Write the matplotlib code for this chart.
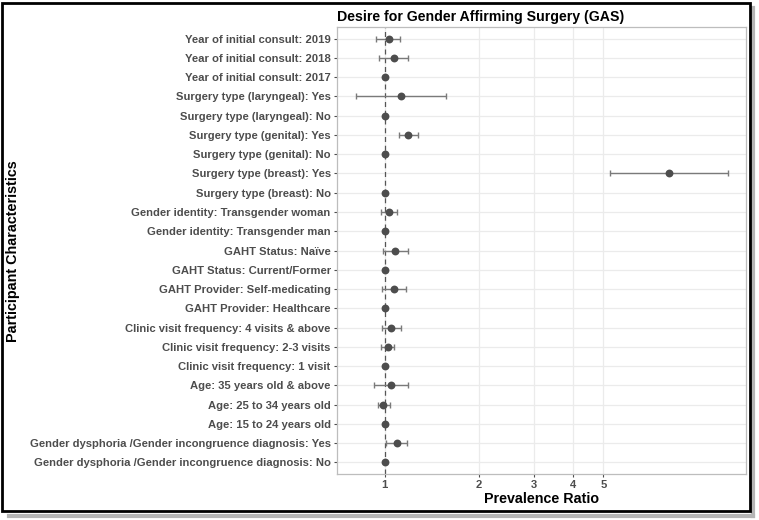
import numpy as np
import matplotlib
matplotlib.use('Agg')
import matplotlib.pyplot as plt
from matplotlib.patches import Rectangle
from matplotlib.lines import Line2D

plt.rcParams['font.family'] = ['Liberation Sans', 'DejaVu Sans']

# rows listed top to bottom
labels = [
    'Year of initial consult: 2019',
    'Year of initial consult: 2018',
    'Year of initial consult: 2017',
    'Surgery type (laryngeal): Yes',
    'Surgery type (laryngeal): No',
    'Surgery type (genital): Yes',
    'Surgery type (genital): No',
    'Surgery type (breast): Yes',
    'Surgery type (breast): No',
    'Gender identity: Transgender woman',
    'Gender identity: Transgender man',
    'GAHT Status: Naïve',
    'GAHT Status: Current/Former',
    'GAHT Provider: Self-medicating',
    'GAHT Provider: Healthcare',
    'Clinic visit frequency: 4 visits & above',
    'Clinic visit frequency: 2-3 visits',
    'Clinic visit frequency: 1 visit',
    'Age: 35 years old & above',
    'Age: 25 to 34 years old',
    'Age: 15 to 24 years old',
    'Gender dysphoria /Gender incongruence diagnosis: Yes',
    'Gender dysphoria /Gender incongruence diagnosis: No',
]
pr    = [1.03, 1.07, 1.00, 1.13, 1.00, 1.19, 1.00, 8.11, 1.00, 1.03, 1.00, 1.08,
         1.00, 1.07, 1.00, 1.05, 1.02, 1.00, 1.05, 0.99, 1.00, 1.09, 1.00]
lower = [0.94, 0.96, np.nan, 0.81, np.nan, 1.11, np.nan, 5.24, np.nan, 0.97, np.nan, 0.99,
         np.nan, 0.98, np.nan, 0.98, 0.97, np.nan, 0.92, 0.95, np.nan, 1.01, np.nan]
upper = [1.12, 1.19, np.nan, 1.57, np.nan, 1.28, np.nan, 12.5, np.nan, 1.09, np.nan, 1.19,
         np.nan, 1.17, np.nan, 1.13, 1.07, np.nan, 1.19, 1.04, np.nan, 1.18, np.nan]
xticks = [1, 2, 3, 4, 5]

n = len(labels)
ypos = np.arange(n)[::-1]

fig = plt.figure(figsize=(7.59, 5.2), dpi=100)
ax = fig.add_axes([0.444, 0.0885, 0.539, 0.8595])

pr_a = np.array(pr)
lo_a = np.array(lower)
hi_a = np.array(upper)
has_ci = ~np.isnan(lo_a)

ax.axvline(1, color='#555555', lw=0.9, ls=(0, (4, 3)), zorder=2)
ax.errorbar(pr_a[has_ci], ypos[has_ci],
            xerr=[pr_a[has_ci] - lo_a[has_ci], hi_a[has_ci] - pr_a[has_ci]],
            fmt='none', ecolor='#7a7a7a', elinewidth=1.0, capsize=2.2,
            capthick=1.0, zorder=3)
ax.scatter(pr_a, ypos, s=32, color='#4d4d4d', zorder=4, linewidths=0)

ax.set_xscale('log')
ax.set_xlim(0.703, 14.3)
ax.set_ylim(-0.6, n - 0.4)
ax.set_xticks(xticks)
ax.set_xticklabels([str(t) for t in xticks])
ax.xaxis.set_minor_locator(matplotlib.ticker.NullLocator())
ax.set_yticks(ypos)
ax.set_yticklabels(labels)

ax.grid(True, color='#ebebeb', lw=0.9, zorder=0)
ax.set_axisbelow(True)
for s in ax.spines.values():
    s.set_color('#bdbdbd')
    s.set_linewidth(0.9)
ax.tick_params(axis='both', length=2.5, width=0.8, color='#4d4d4d',
               labelcolor='#4d4d4d', labelsize=8.1, pad=2)
for lab in ax.get_xticklabels() + ax.get_yticklabels():
    lab.set_fontweight('bold')

ax.set_title('Desire for Gender Affirming Surgery (GAS)', loc='left',
             fontsize=10.2, fontweight='bold', pad=4)
ax.set_xlabel('Prevalence Ratio', fontsize=10.3, fontweight='bold', labelpad=1)
fig.text(0.017, 0.518, 'Participant Characteristics', rotation=90,
         ha='center', va='center', fontsize=10.4, fontweight='bold')

# screenshot-style frame with a soft shadow on bottom and right
fig.lines.append(Line2D([0.012, 0.992], [0.008, 0.008], transform=fig.transFigure,
                        color='#b5b5b5', lw=3, zorder=0))
fig.lines.append(Line2D([0.992, 0.992], [0.008, 0.985], transform=fig.transFigure,
                        color='#b5b5b5', lw=3, zorder=0))
fig.patches.append(Rectangle((0.003, 0.017), 0.985, 0.978, transform=fig.transFigure,
                             fill=False, edgecolor='black', lw=2, zorder=1))

fig.savefig('out.png', dpi=100)
